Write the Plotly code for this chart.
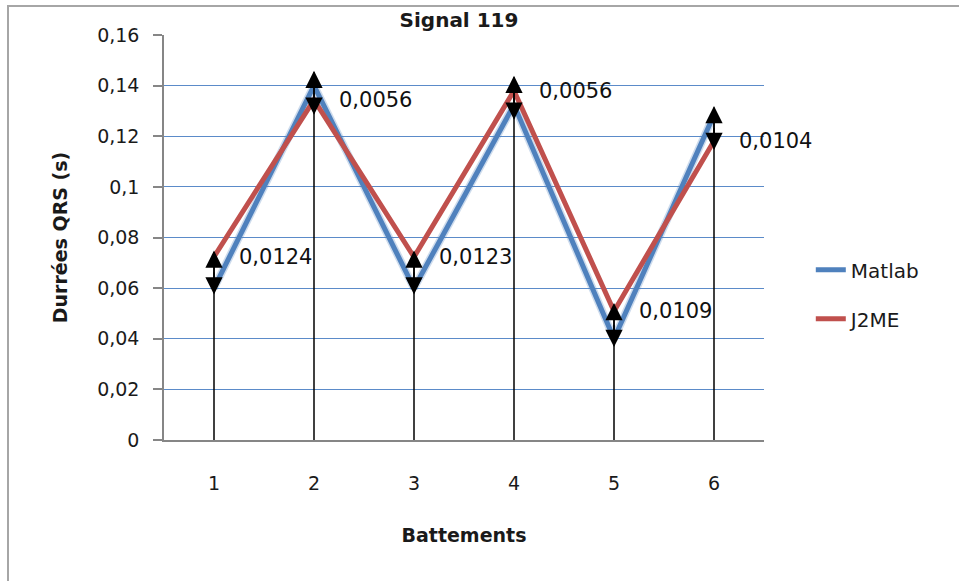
import plotly.graph_objects as go

# QRS durations per beat, measured by two implementations
beats = [1, 2, 3, 4, 5, 6]
matlab = [0.06, 0.14, 0.06, 0.1324, 0.04, 0.1285]
j2me = [0.0724, 0.1344, 0.0723, 0.138, 0.0509, 0.1181]

y_tick_vals = [0, 0.02, 0.04, 0.06, 0.08, 0.1, 0.12, 0.14, 0.16]
y_tick_text = ["0", "0,02", "0,04", "0,06", "0,08", "0,1", "0,12", "0,14", "0,16"]

BLUE = "#4F81BD"
RED = "#C0504D"
FONT = "DejaVu Sans"

# differences between the two measurements, shown next to each beat
diffs = [abs(a - b) for a, b in zip(matlab, j2me)]
diff_text = [f"{d:.4f}".replace(".", ",") for d in diffs]
mids = [(a + b) / 2 for a, b in zip(matlab, j2me)]

fig = go.Figure()

# vertical drop lines from the axis up to each pair of values
drop_x, drop_y = [], []
for b, m in zip(beats, mids):
    drop_x += [b, b, None]
    drop_y += [0, m, None]
fig.add_trace(go.Scatter(x=drop_x, y=drop_y, mode="lines",
                         line=dict(color="black", width=1.5),
                         showlegend=False, hoverinfo="skip"))

# soft halo under the Matlab line
fig.add_trace(go.Scatter(x=beats, y=matlab, mode="lines",
                         line=dict(color="rgba(79,129,189,0.28)", width=8),
                         showlegend=False, hoverinfo="skip"))
fig.add_trace(go.Scatter(x=beats, y=matlab, mode="lines", name="Matlab",
                         legendgroup="a",
                         line=dict(color=BLUE, width=5)))
fig.add_trace(go.Scatter(x=beats, y=j2me, mode="lines", name="J2ME",
                         legendgroup="b",
                         line=dict(color=RED, width=5)))

# double-headed arrows centred between the two measurements
for b, m in zip(beats, mids):
    for sign in (1, -1):
        fig.add_annotation(x=b, y=m, xref="x", yref="y", text="",
                           showarrow=True, arrowhead=2, arrowsize=2.3,
                           arrowwidth=1.5, arrowcolor="black",
                           ax=0, ay=44 * sign, yshift=22 * sign,
                           standoff=0, startstandoff=0)

# difference labels
for b, v, t in zip(beats, j2me, diff_text):
    fig.add_annotation(x=b + 0.23, y=v, xref="x", yref="y", text=t,
                       showarrow=False, xanchor="left", yanchor="middle",
                       font=dict(family=FONT, size=21, color="#111111"))

# outer chart frame
fig.add_shape(type="rect", xref="paper", yref="paper",
              x0=-0.26, x1=2, y0=-1, y1=1.0716,
              line=dict(color="#a6a6a6", width=2), layer="below")

fig.update_layout(
    width=959, height=581,
    margin=dict(l=164, r=195, t=35, b=141),
    paper_bgcolor="white", plot_bgcolor="white",
    font=dict(family=FONT, color="#1a1a1a"),
    title=dict(text="<b>Signal 119</b>", x=0.4917, xref="paper",
               y=1 - 20 / 581, yref="container", yanchor="middle",
               xanchor="center",
               font=dict(family=FONT, size=20, color="#1a1a1a")),
    legend=dict(x=1.078, y=0.36, xanchor="left", yanchor="middle",
                traceorder="grouped", tracegroupgap=20,
                font=dict(family=FONT, size=20, color="#1a1a1a"),
                bgcolor="rgba(0,0,0,0)"),
    showlegend=True,
)

fig.update_xaxes(range=[0.5, 6.5], tickvals=beats,
                 ticktext=[str(b) for b in beats],
                 showgrid=False, zeroline=False, showline=True,
                 linecolor="#868686", linewidth=1.5, ticks="",
                 ticklabelstandoff=25,
                 tickfont=dict(family=FONT, size=19, color="#1a1a1a"),
                 title=dict(text="<b>Battements</b>", standoff=36,
                            font=dict(family=FONT, size=19, color="#1a1a1a")))

fig.update_yaxes(range=[0, 0.16], tickvals=y_tick_vals, ticktext=y_tick_text,
                 showgrid=True, gridcolor="#5B8BC9", gridwidth=1,
                 zeroline=False, showline=True, linecolor="#868686",
                 linewidth=1.5, ticks="outside", ticklen=9,
                 tickcolor="#868686", tickwidth=1.5,
                 ticklabelstandoff=10,
                 tickfont=dict(family=FONT, size=19, color="#1a1a1a"),
                 title=dict(text="<b>Durrées QRS (s)</b>", standoff=24,
                            font=dict(family=FONT, size=19, color="#1a1a1a")))

fig.write_html("out.html")
